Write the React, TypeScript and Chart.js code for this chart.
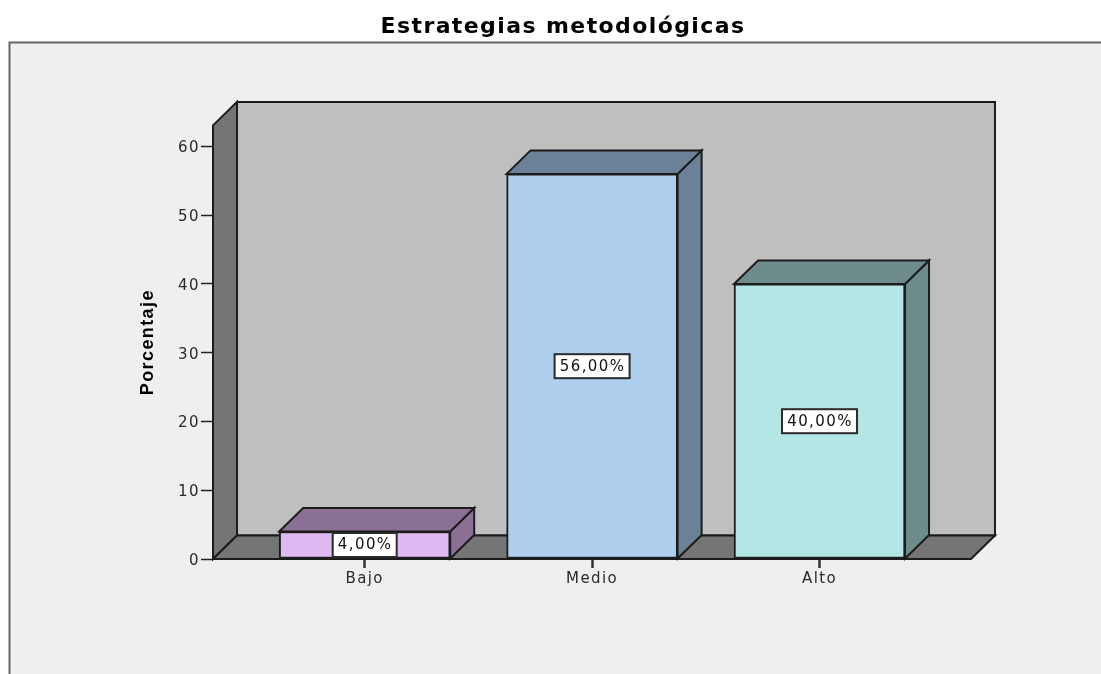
import React, { useEffect, useRef } from "react";
import { Chart, registerables } from "chart.js";

Chart.register(...registerables);

const categories = ["Bajo", "Medio", "Alto"];
const percentages = [4, 56, 40];
const valueLabels = ["4,00%", "56,00%", "40,00%"];
const frontColors = ["#dfb9f2", "#aed0ee", "#b5e6e6"];
const sideColors = ["#8a7095", "#6a8198", "#6e8c8c"];
const yTicks = [0, 10, 20, 30, 40, 50, 60];
const X_MIN = -0.667;
const X_FLOOR_END = 2.666;
const X_MAX = 2.754;
const Y_MAX = 63.05;
const DX = 24;
const DY = 23.5;
const INK = "#1c1c1c";

function poly(ctx: CanvasRenderingContext2D, pts: number[][], fill: string) {
  ctx.beginPath();
  pts.forEach((p, i) => (i ? ctx.lineTo(p[0], p[1]) : ctx.moveTo(p[0], p[1])));
  ctx.closePath();
  ctx.fillStyle = fill;
  ctx.fill();
  ctx.lineWidth = 2;
  ctx.strokeStyle = INK;
  ctx.lineJoin = "miter";
  ctx.stroke();
}

const scene = {
  id: "scene",
  beforeDraw(chart: any) {
    const ctx = chart.ctx as CanvasRenderingContext2D;
    ctx.save();
    ctx.fillStyle = "#ffffff";
    ctx.fillRect(0, 0, chart.width, chart.height);
    ctx.fillStyle = "#efefef";
    ctx.fillRect(9, 42, chart.width, chart.height);
    ctx.strokeStyle = "#666666";
    ctx.lineWidth = 2;
    ctx.beginPath();
    ctx.moveTo(9.5, chart.height + 2);
    ctx.lineTo(9.5, 42.5);
    ctx.lineTo(chart.width + 2, 42.5);
    ctx.stroke();
    ctx.restore();
    (ctx as any).letterSpacing = "1.4px";
  },
  beforeDatasetsDraw(chart: any) {
    const ctx = chart.ctx as CanvasRenderingContext2D;
    const x0 = chart.scales.x.getPixelForValue(X_MIN);
    const x1 = chart.scales.x.getPixelForValue(X_FLOOR_END);
    const y0 = chart.scales.y.getPixelForValue(0);
    const yT = chart.scales.y.getPixelForValue(Y_MAX);
    ctx.save();
    poly(ctx, [[x0 + DX, yT - DY], [x1 + DX, yT - DY], [x1 + DX, y0 - DY], [x0 + DX, y0 - DY]], "#bfbfbf");
    poly(ctx, [[x0, yT], [x0 + DX, yT - DY], [x0 + DX, y0 - DY], [x0, y0]], "#757575");
    poly(ctx, [[x0, y0], [x0 + DX, y0 - DY], [x1 + DX, y0 - DY], [x1, y0]], "#757575");
    chart.getDatasetMeta(0).data.forEach((bar: any, i: number) => {
      const l = bar.x - bar.width / 2;
      const r = bar.x + bar.width / 2;
      const t = bar.y;
      const b = bar.base;
      poly(ctx, [[r, t], [r + DX, t - DY], [r + DX, b - DY], [r, b]], sideColors[i]);
      poly(ctx, [[l, t], [l + DX, t - DY], [r + DX, t - DY], [r, t]], sideColors[i]);
    });
    ctx.restore();
  },
  afterDatasetsDraw(chart: any) {
    const ctx = chart.ctx as CanvasRenderingContext2D;
    ctx.save();
    ctx.font = "15px 'DejaVu Sans'";
    ctx.textAlign = "center";
    ctx.textBaseline = "middle";
    chart.getDatasetMeta(0).data.forEach((bar: any, i: number) => {
      const cy = (bar.y + bar.base) / 2;
      const w = i === 0 ? 64 : 75;
      ctx.fillStyle = "#ffffff";
      ctx.fillRect(bar.x - w / 2, cy - 12, w, 24);
      ctx.strokeStyle = "#2a2a2a";
      ctx.lineWidth = 2;
      ctx.strokeRect(bar.x - w / 2, cy - 12, w, 24);
      ctx.fillStyle = "#111111";
      ctx.fillText(valueLabels[i], bar.x + 0.5, cy + 0.5);
    });
    ctx.restore();
  },
};

export default function App() {
  const ref = useRef<HTMLCanvasElement | null>(null);
  useEffect(() => {
    if (!ref.current) return;
    const chart = new Chart(ref.current, {
      type: "bar",
      data: {
        datasets: [
          {
            data: categories.map((_, i) => ({ x: i, y: percentages[i] })),
            backgroundColor: frontColors,
            borderColor: INK,
            borderWidth: 2,
            borderSkipped: false,
            barThickness: 171,
          },
        ],
      },
      options: {
        responsive: false,
        animation: false,
        events: [],
        layout: { padding: { left: 135, right: 110, top: 0, bottom: 0 } },
        plugins: {
          legend: { display: false },
          tooltip: { enabled: false },
          title: {
            display: true,
            text: "Estrategias metodológicas",
            color: "#000000",
            font: { family: "'DejaVu Sans'", size: 22, weight: "bold", lineHeight: 1.2 },
            padding: { top: 14, bottom: 85 },
          },
        },
        scales: {
          x: {
            type: "linear",
            offset: false,
            min: X_MIN,
            max: X_MAX,
            afterFit: (s: any) => { s.height = 115; },
            afterBuildTicks: (s: any) => { s.ticks = categories.map((_, i) => ({ value: i })); },
            grid: { offset: false, drawOnChartArea: false, drawTicks: true, tickLength: 9, tickColor: "#333333", tickWidth: 2.5 },
            border: { display: false },
            ticks: {
              autoSkip: false,
              maxRotation: 0,
              padding: 2,
              color: "#2a2a2a",
              font: { family: "'DejaVu Sans'", size: 15 },
              callback: (v: any) => categories[v],
            },
          },
          y: {
            min: 0,
            max: Y_MAX,
            afterFit: (s: any) => { s.width = 78; },
            afterBuildTicks: (s: any) => { s.ticks = yTicks.map((value) => ({ value })); },
            grid: { drawOnChartArea: false, drawTicks: true, tickLength: 12, tickColor: "#222222", tickWidth: 1.5 },
            border: { display: false },
            title: {
              display: true,
              text: "Porcentaje",
              color: "#000000",
              font: { family: "'Liberation Sans Narrow', 'Liberation Sans'", size: 18, weight: "bold", lineHeight: 1.2 },
              padding: { top: 2, bottom: 0 },
            },
            ticks: {
              padding: 1,
              labelOffset: 2,
              color: "#2a2a2a",
              font: { family: "'DejaVu Sans'", size: 15 },
              callback: (v: any) => String(v),
            },
          },
        },
      } as any,
      plugins: [scene],
    });
    return () => chart.destroy();
  }, []);
  return (
    <div style={{ position: "absolute", left: 0, top: 0, width: 1101, height: 674, overflow: "hidden" }}>
      <canvas ref={ref} width={1101} height={674} style={{ display: "block", filter: "blur(0.45px)" }} />
    </div>
  );
}
